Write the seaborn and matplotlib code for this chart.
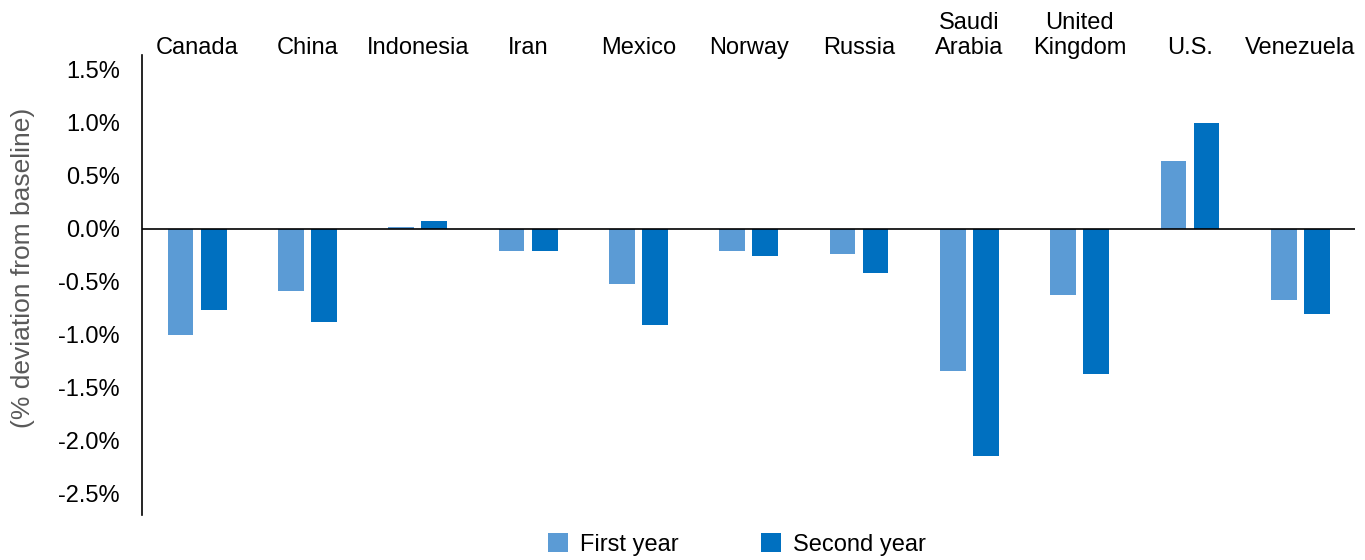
import pandas as pd
import seaborn as sns
import matplotlib.pyplot as plt
from matplotlib.ticker import FuncFormatter

# country labels (top axis)
countries = ['Canada', 'China', 'Indonesia', 'Iran', 'Mexico', 'Norway',
             'Russia', 'Saudi\nArabia', 'United\nKingdom', 'U.S.', 'Venezuela']
# % deviation from baseline
first_year = [-1.00, -0.59, 0.02, -0.21, -0.52, -0.21, -0.24, -1.34, -0.62, 0.64, -0.67]
second_year = [-0.77, -0.88, 0.07, -0.21, -0.91, -0.26, -0.42, -2.14, -1.37, 1.00, -0.80]
series = ['First year', 'Second year']
yticks = [1.5, 1.0, 0.5, 0.0, -0.5, -1.0, -1.5, -2.0, -2.5]

# long format for seaborn
df = pd.DataFrame({
    'Country': countries * 2,
    'Value': first_year + second_year,
    'Series': [series[0]] * len(countries) + [series[1]] * len(countries),
})

sns.set_style('white')
plt.rcParams['font.family'] = ['Liberation Sans', 'DejaVu Sans']
plt.rcParams['text.color'] = 'black'
plt.rcParams['xtick.color'] = 'black'
plt.rcParams['ytick.color'] = 'black'

fig = plt.figure(figsize=(13.65, 5.6), dpi=100)
ax = fig.add_axes([0.104, 0.080, 0.889, 0.822])

sns.barplot(data=df, x='Country', y='Value', hue='Series',
            palette=['#5B9BD5', '#0070C0'], width=0.6, gap=0.22,
            order=countries, hue_order=series, ax=ax, legend=True,
            saturation=1, linewidth=0)

ax.set_ylim(-2.70, 1.64)
ax.set_xlim(-0.5, len(countries) - 0.5)
ax.set_yticks(yticks)
ax.yaxis.set_major_formatter(FuncFormatter(lambda v, p: '%.1f%%' % v))
# zero line drawn over the bars
ax.axhline(0, color='black', lw=1.2, zorder=5)

# category labels sit on top
ax.xaxis.tick_top()
ax.tick_params(axis='x', length=0, labelsize=17, pad=-3)
ax.tick_params(axis='y', length=0, labelsize=17, pad=16)
for lab in ax.get_xticklabels():
    lab.set_linespacing(1.2)

for s in ['top', 'right', 'bottom']:
    ax.spines[s].set_visible(False)
ax.spines['left'].set_color('black')
ax.spines['left'].set_linewidth(1.2)

ax.set_xlabel('')
ax.set_ylabel('(% deviation from baseline)', fontsize=19, color='#595959')
ax.yaxis.set_label_coords(-0.088, 0.537)

handles, labels = ax.get_legend_handles_labels()
ax.get_legend().remove()
fig.legend(handles, labels, loc='lower center', bbox_to_anchor=(0.54, -0.03),
           ncol=2, frameon=False, fontsize=17, columnspacing=3.5,
           handlelength=0.85, handleheight=0.85, handletextpad=0.5)

fig.savefig('out.png', dpi=100)
